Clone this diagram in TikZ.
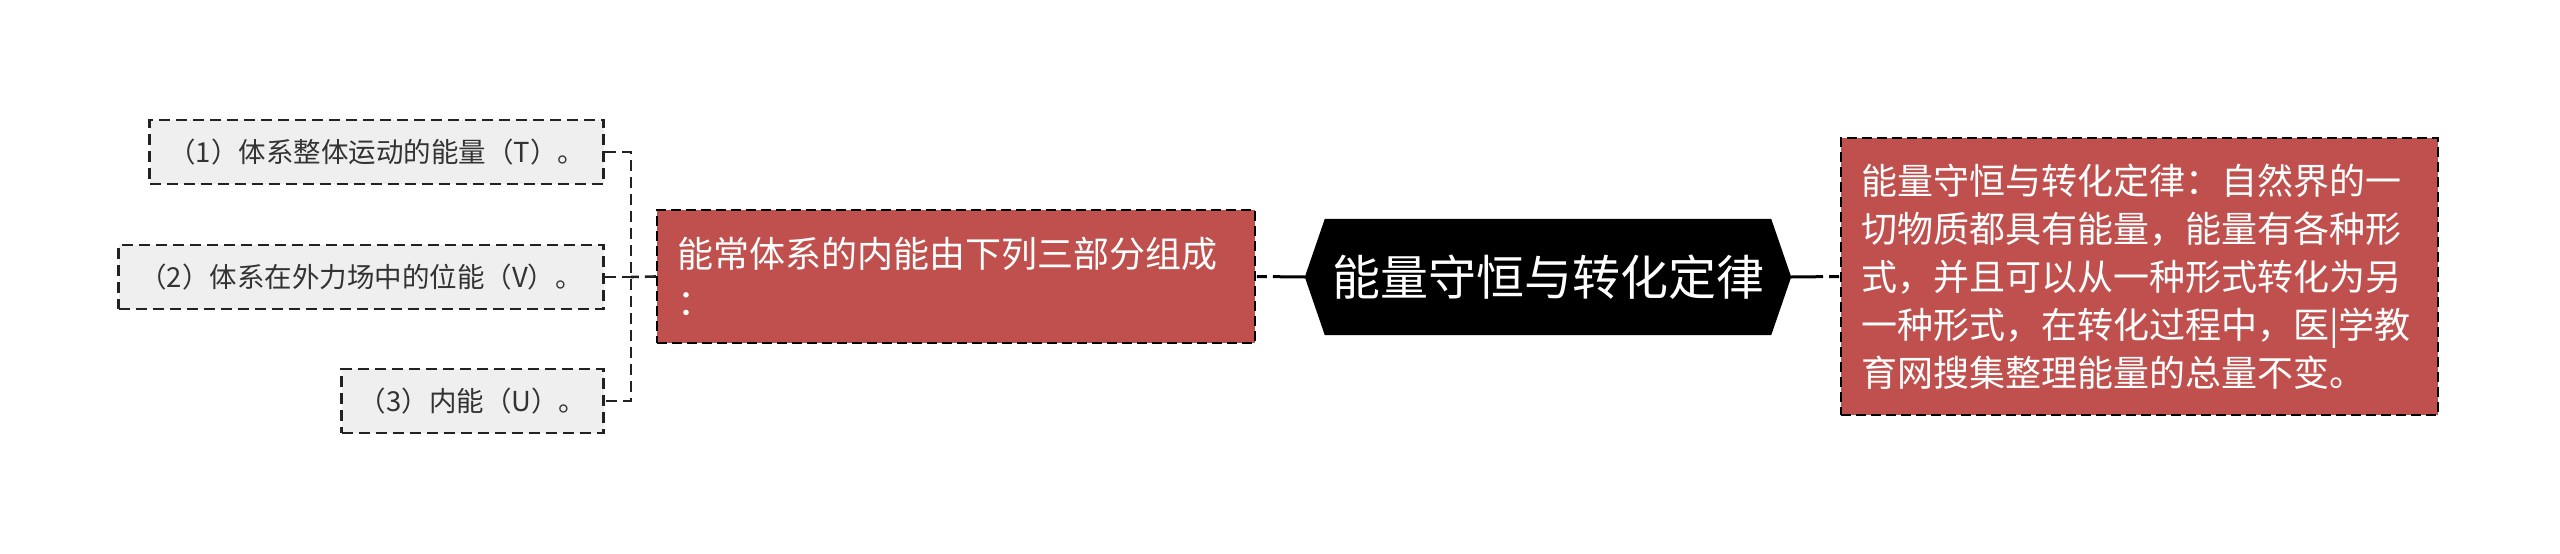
\documentclass[tikz,border=0pt]{standalone}
\usepackage{fontspec}
\setmainfont{Noto Sans CJK SC}
\usetikzlibrary{backgrounds}
\definecolor{redfill}{HTML}{C0504D}
\definecolor{grayfill}{HTML}{EFEFEF}
\definecolor{graytext}{HTML}{333333}
\definecolor{linecol}{HTML}{222222}
\begin{document}
\begin{tikzpicture}[x=1pt,y=-1pt,
  leaf/.style={draw=linecol, fill=grayfill, dash pattern=on 11pt off 6pt, line width=2.6pt,
    minimum height=64pt, inner sep=0pt, font=\fontsize{27.5}{32}\selectfont, text=graytext, anchor=east},
  redbox/.style={draw=black, fill=redfill, dash pattern=on 10pt off 5pt, line width=2.2pt,
    text=white, align=left, inner xsep=20pt, inner ysep=0pt, font=\fontsize{36}{48}\selectfont},
  conn/.style={draw=linecol, line width=2.6pt, dash pattern=on 11pt off 6pt},
  rootconn/.style={draw=black, line width=3pt, dash pattern=on 32pt off 6pt on 10pt off 4pt}]
\useasboundingbox (0,0) rectangle (2560,554);

\node[minimum width=486pt, minimum height=116pt, inner sep=0pt, text=white,
  font=\fontsize{48}{56}\selectfont] (root) at (1548,277) {能量守恒与转化定律};

\node[redbox, text width=558pt, minimum height=133pt] (mid) at (956,276.5)
  {能常体系的内能由下列三部分组成\\：};

\node[redbox, text width=557pt, minimum height=277pt] (right) at (2139.5,276.5)
  {能量守恒与转化定律：自然界的一\\切物质都具有能量，能量有各种形\\式，并且可以从一种形式转化为另\\一种形式，在转化过程中，医|学教\\育网搜集整理能量的总量不变。};

\node[leaf, minimum width=454pt] (b1) at (605,152) {（1）体系整体运动的能量（T）。};
\node[leaf, minimum width=485pt] (b2) at (605,277) {（2）体系在外力场中的位能（V）。};
\node[leaf, minimum width=262pt] (b3) at (605,401) {（3）内能（U）。};

\coordinate (br) at (631,277);
\draw[conn] (mid.west) -- (br);
\draw[conn] (b1.east) -- (b1.east -| br) -- (b3.east -| br) -- (b3.east);
\draw[conn] (b2.east) -- (br);
\draw[rootconn] (root.west) -- (mid.east);
\draw[rootconn] (root.east) -- (right.west);

\begin{scope}[on background layer]
\fill[white] (0,0) rectangle (2560,554);
\fill[black] (root.west) -- ([xshift=20pt]root.north west) -- ([xshift=-20pt]root.north east)
  -- (root.east) -- ([xshift=-20pt]root.south east) -- ([xshift=20pt]root.south west) -- cycle;
\end{scope}
\end{tikzpicture}
\end{document}
